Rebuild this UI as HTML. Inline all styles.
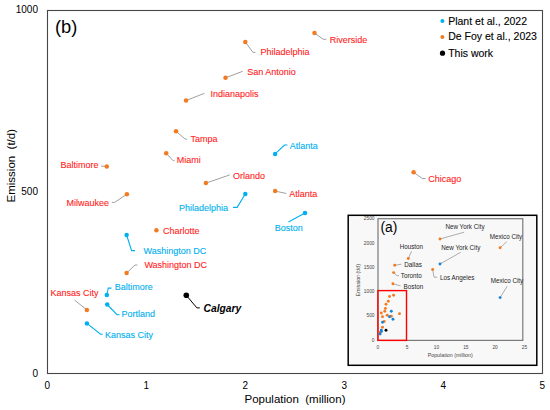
<!DOCTYPE html>
<html><head><meta charset="utf-8">
<style>
html,body{margin:0;padding:0;background:#fff;}
body{width:550px;height:410px;overflow:hidden;}
svg{display:block;font-family:"Liberation Sans",sans-serif;}
</style></head>
<body>
<svg width="550" height="410" viewBox="0 0 550 410">
<rect x="47.5" y="10.5" width="495" height="363" fill="none" stroke="#464646" stroke-width="1.1"/>
<text x="38.0" y="13.1" fill="#000" font-size="10" text-anchor="end"  >1000</text>
<text x="38.0" y="195.0" fill="#000" font-size="10" text-anchor="end"  >500</text>
<text x="38.0" y="377.0" fill="#000" font-size="10" text-anchor="end"  >0</text>
<text x="47.4" y="389.3" fill="#000" font-size="10" text-anchor="middle"  >0</text>
<text x="146.4" y="389.3" fill="#000" font-size="10" text-anchor="middle"  >1</text>
<text x="245.4" y="389.3" fill="#000" font-size="10" text-anchor="middle"  >2</text>
<text x="344.4" y="389.3" fill="#000" font-size="10" text-anchor="middle"  >3</text>
<text x="443.4" y="389.3" fill="#000" font-size="10" text-anchor="middle"  >4</text>
<text x="542.4" y="389.3" fill="#000" font-size="10" text-anchor="middle"  >5</text>
<text x="295" y="402.6" font-size="11.5" text-anchor="middle" fill="#000" xml:space="preserve">Population  (million)</text>
<text transform="translate(14.7,165.7) rotate(-90)" x="0" y="0" font-size="11.5" text-anchor="middle" fill="#000" xml:space="preserve">Emission  (t/d)</text>
<text x="55.0" y="32.7" fill="#000" font-size="18.3" text-anchor="start"  >(b)</text>
<polyline points="314.5,33.1 323.3,39.3 326.2,39.3" fill="none" stroke="#A0A0A0" stroke-width="1"/>
<polyline points="245.3,42.0 252.9,52.3 255.5,52.3" fill="none" stroke="#A0A0A0" stroke-width="1"/>
<polyline points="225.5,77.8 242.7,71.3" fill="none" stroke="#A0A0A0" stroke-width="1"/>
<polyline points="186.0,100.5 204.5,93.3" fill="none" stroke="#A0A0A0" stroke-width="1"/>
<polyline points="176.0,131.3 185.2,139.1 187.1,139.1" fill="none" stroke="#A0A0A0" stroke-width="1"/>
<polyline points="166.2,153.2 173.0,160.6 174.4,160.6" fill="none" stroke="#A0A0A0" stroke-width="1"/>
<polyline points="205.9,183.1 229.8,174.9" fill="none" stroke="#A0A0A0" stroke-width="1"/>
<polyline points="275.1,191.1 286.4,193.5" fill="none" stroke="#A0A0A0" stroke-width="1"/>
<polyline points="413.6,172.3 422.3,178.5 425.5,178.5" fill="none" stroke="#A0A0A0" stroke-width="1"/>
<polyline points="106.8,166.5 101.0,166.0" fill="none" stroke="#A0A0A0" stroke-width="1"/>
<polyline points="126.9,194.2 114.6,202.4 111.9,202.4" fill="none" stroke="#A0A0A0" stroke-width="1"/>
<polyline points="126.6,273.0 135.0,265.0 137.4,265.0" fill="none" stroke="#A0A0A0" stroke-width="1"/>
<polyline points="86.9,309.9 74.5,300.1" fill="none" stroke="#A0A0A0" stroke-width="1"/>
<polyline points="275.1,153.9 284.5,145.0 287.4,145.0" fill="none" stroke="#00B0F0" stroke-width="1.1"/>
<polyline points="245.3,194.0 237.1,207.4 233.0,207.4" fill="none" stroke="#00B0F0" stroke-width="1.1"/>
<polyline points="305.0,213.1 288.5,221.9" fill="none" stroke="#00B0F0" stroke-width="1.1"/>
<polyline points="126.6,235.0 131.6,250.6 135.0,250.6" fill="none" stroke="#00B0F0" stroke-width="1.1"/>
<polyline points="106.8,295.0 108.3,288.1 111.5,288.1" fill="none" stroke="#00B0F0" stroke-width="1.1"/>
<polyline points="107.2,304.5 117.0,314.7 119.6,314.7" fill="none" stroke="#00B0F0" stroke-width="1.1"/>
<polyline points="86.9,323.4 100.6,334.3 102.8,334.3" fill="none" stroke="#00B0F0" stroke-width="1.1"/>
<circle cx="314.5" cy="33.1" r="2.25" fill="#F47A20"/>
<text x="329.8" y="42.6" fill="#FF1F1F" font-size="9" text-anchor="start" stroke="#FF1F1F" stroke-width="0.12" >Riverside</text>
<circle cx="245.3" cy="42.0" r="2.25" fill="#F47A20"/>
<text x="260.5" y="55.1" fill="#FF1F1F" font-size="9" text-anchor="start" stroke="#FF1F1F" stroke-width="0.12" >Philadelphia</text>
<circle cx="225.5" cy="77.8" r="2.25" fill="#F47A20"/>
<text x="247.3" y="74.6" fill="#FF1F1F" font-size="9" text-anchor="start" stroke="#FF1F1F" stroke-width="0.12" >San Antonio</text>
<circle cx="186.0" cy="100.5" r="2.25" fill="#F47A20"/>
<text x="210.5" y="96.7" fill="#FF1F1F" font-size="9" text-anchor="start" stroke="#FF1F1F" stroke-width="0.12" >Indianapolis</text>
<circle cx="176.0" cy="131.3" r="2.25" fill="#F47A20"/>
<text x="190.4" y="142.1" fill="#FF1F1F" font-size="9" text-anchor="start" stroke="#FF1F1F" stroke-width="0.12" >Tampa</text>
<circle cx="166.2" cy="153.2" r="2.25" fill="#F47A20"/>
<text x="176.8" y="163.1" fill="#FF1F1F" font-size="9" text-anchor="start" stroke="#FF1F1F" stroke-width="0.12" >Miami</text>
<circle cx="205.9" cy="183.1" r="2.25" fill="#F47A20"/>
<text x="233.1" y="178.8" fill="#FF1F1F" font-size="9" text-anchor="start" stroke="#FF1F1F" stroke-width="0.12" >Orlando</text>
<circle cx="275.1" cy="191.1" r="2.25" fill="#F47A20"/>
<text x="289.3" y="196.7" fill="#FF1F1F" font-size="9" text-anchor="start" stroke="#FF1F1F" stroke-width="0.12" >Atlanta</text>
<circle cx="413.6" cy="172.3" r="2.25" fill="#F47A20"/>
<text x="428.3" y="181.7" fill="#FF1F1F" font-size="9" text-anchor="start" stroke="#FF1F1F" stroke-width="0.12" >Chicago</text>
<circle cx="106.8" cy="166.5" r="2.25" fill="#F47A20"/>
<text x="98.5" y="168.1" fill="#FF1F1F" font-size="9" text-anchor="end" stroke="#FF1F1F" stroke-width="0.12" >Baltimore</text>
<circle cx="126.9" cy="194.2" r="2.25" fill="#F47A20"/>
<text x="109.0" y="206.1" fill="#FF1F1F" font-size="9" text-anchor="end" stroke="#FF1F1F" stroke-width="0.12" >Milwaukee</text>
<circle cx="156.4" cy="230.2" r="2.25" fill="#F47A20"/>
<text x="163.0" y="233.5" fill="#FF1F1F" font-size="9" text-anchor="start" stroke="#FF1F1F" stroke-width="0.12" >Charlotte</text>
<circle cx="126.6" cy="273.0" r="2.25" fill="#F47A20"/>
<text x="144.4" y="268.1" fill="#FF1F1F" font-size="9" text-anchor="start" stroke="#FF1F1F" stroke-width="0.12" >Washington DC</text>
<circle cx="86.9" cy="309.9" r="2.25" fill="#F47A20"/>
<text x="50.5" y="296.4" fill="#FF1F1F" font-size="9" text-anchor="start" stroke="#FF1F1F" stroke-width="0.12" >Kansas City</text>
<circle cx="275.1" cy="153.9" r="2.25" fill="#00B0F0"/>
<text x="289.7" y="148.9" fill="#00B0F0" font-size="9" text-anchor="start" stroke="#00B0F0" stroke-width="0.12" >Atlanta</text>
<circle cx="245.3" cy="194.0" r="2.25" fill="#00B0F0"/>
<text x="228.0" y="210.7" fill="#00B0F0" font-size="9" text-anchor="end" stroke="#00B0F0" stroke-width="0.12" >Philadelphia</text>
<circle cx="305.0" cy="213.1" r="2.25" fill="#00B0F0"/>
<text x="274.8" y="231.1" fill="#00B0F0" font-size="9" text-anchor="start" stroke="#00B0F0" stroke-width="0.12" >Boston</text>
<circle cx="126.6" cy="235.0" r="2.25" fill="#00B0F0"/>
<text x="143.6" y="253.8" fill="#00B0F0" font-size="9" text-anchor="start" stroke="#00B0F0" stroke-width="0.12" >Washington DC</text>
<circle cx="106.8" cy="295.0" r="2.25" fill="#00B0F0"/>
<text x="114.8" y="290.1" fill="#00B0F0" font-size="9" text-anchor="start" stroke="#00B0F0" stroke-width="0.12" >Baltimore</text>
<circle cx="107.2" cy="304.5" r="2.25" fill="#00B0F0"/>
<text x="121.4" y="317.4" fill="#00B0F0" font-size="9" text-anchor="start" stroke="#00B0F0" stroke-width="0.12" >Portland</text>
<circle cx="86.9" cy="323.4" r="2.25" fill="#00B0F0"/>
<text x="105.0" y="338.1" fill="#00B0F0" font-size="9" text-anchor="start" stroke="#00B0F0" stroke-width="0.12" >Kansas City</text>
<polyline points="186.3,295.3 196.9,307.9 199.8,307.9" fill="none" stroke="#000" stroke-width="1"/>
<circle cx="186.3" cy="295.3" r="2.8" fill="#000"/>
<text x="203.5" y="312.1" fill="#000" font-size="10.3" text-anchor="start"  font-weight="bold" font-style="italic">Calgary</text>
<circle cx="442.4" cy="21.0" r="2.0" fill="#00B0F0"/>
<circle cx="442.4" cy="37.1" r="2.0" fill="#F47A20"/>
<circle cx="442.5" cy="53.2" r="2.6" fill="#000"/>
<text x="448.2" y="24.7" fill="#000" font-size="10.5" text-anchor="start" stroke="#000" stroke-width="0.12" style="stroke-width:0.12">Plant et al., 2022</text>
<text x="448.2" y="40.4" fill="#000" font-size="10.5" text-anchor="start" stroke="#000" stroke-width="0.12" style="stroke-width:0.12">De Foy et al., 2023</text>
<text x="448.2" y="56.7" fill="#000" font-size="10.5" text-anchor="start" stroke="#000" stroke-width="0.12" style="stroke-width:0.12">This work</text>
<rect x="348.2" y="215.3" width="188.6" height="150" fill="#F8F8F8" stroke="#000" stroke-width="1.5"/>
<rect x="378.0" y="218.7" width="144.8" height="121.7" fill="none" stroke="#7A7A7A" stroke-width="1.2"/>
<text x="374.5" y="341.7" fill="#444" font-size="4.8" text-anchor="end"  >0</text>
<text x="374.5" y="317.4" fill="#444" font-size="4.8" text-anchor="end"  >500</text>
<text x="374.5" y="293.2" fill="#444" font-size="4.8" text-anchor="end"  >1000</text>
<text x="374.5" y="268.9" fill="#444" font-size="4.8" text-anchor="end"  >1500</text>
<text x="374.5" y="244.7" fill="#444" font-size="4.8" text-anchor="end"  >2000</text>
<text x="374.5" y="220.4" fill="#444" font-size="4.8" text-anchor="end"  >2500</text>
<text x="377.9" y="348.7" fill="#444" font-size="4.8" text-anchor="middle"  >0</text>
<text x="407.2" y="348.7" fill="#444" font-size="4.8" text-anchor="middle"  >5</text>
<text x="436.5" y="348.7" fill="#444" font-size="4.8" text-anchor="middle"  >10</text>
<text x="465.8" y="348.7" fill="#444" font-size="4.8" text-anchor="middle"  >15</text>
<text x="495.1" y="348.7" fill="#444" font-size="4.8" text-anchor="middle"  >20</text>
<text x="524.4" y="348.7" fill="#444" font-size="4.8" text-anchor="middle"  >25</text>
<text x="450.2" y="357.1" fill="#444" font-size="5.3" text-anchor="middle"  >Population (million)</text>
<text transform="translate(360.32,280.2) rotate(-90)" font-size="5.3" text-anchor="middle" fill="#444">Emission (t/d)</text>
<text x="380.4" y="232.3" fill="#000" font-size="13.8" text-anchor="start"  >(a)</text>
<rect x="377.9" y="290.6" width="28.6" height="49.8" fill="none" stroke="#FF0000" stroke-width="1.4"/>
<circle cx="393.6" cy="295.2" r="1.45" fill="#F47A20"/>
<circle cx="389.5" cy="296.5" r="1.45" fill="#F47A20"/>
<circle cx="388.3" cy="301.2" r="1.45" fill="#F47A20"/>
<circle cx="386.0" cy="304.2" r="1.45" fill="#F47A20"/>
<circle cx="385.4" cy="308.4" r="1.45" fill="#F47A20"/>
<circle cx="384.8" cy="311.3" r="1.45" fill="#F47A20"/>
<circle cx="387.2" cy="315.2" r="1.45" fill="#F47A20"/>
<circle cx="391.3" cy="316.3" r="1.45" fill="#F47A20"/>
<circle cx="399.5" cy="313.8" r="1.45" fill="#F47A20"/>
<circle cx="381.3" cy="313.0" r="1.45" fill="#F47A20"/>
<circle cx="382.5" cy="316.7" r="1.45" fill="#F47A20"/>
<circle cx="384.2" cy="321.5" r="1.45" fill="#F47A20"/>
<circle cx="382.5" cy="327.2" r="1.45" fill="#F47A20"/>
<circle cx="380.1" cy="332.1" r="1.45" fill="#F47A20"/>
<circle cx="391.3" cy="311.3" r="1.45" fill="#1683D6"/>
<circle cx="389.5" cy="316.7" r="1.45" fill="#1683D6"/>
<circle cx="393.0" cy="319.3" r="1.45" fill="#1683D6"/>
<circle cx="382.5" cy="322.2" r="1.45" fill="#1683D6"/>
<circle cx="381.3" cy="330.1" r="1.45" fill="#1683D6"/>
<circle cx="381.4" cy="331.4" r="1.45" fill="#1683D6"/>
<circle cx="380.1" cy="334.0" r="1.45" fill="#1683D6"/>
<circle cx="386.0" cy="330.2" r="1.45" fill="#000"/>
<polyline points="408.3,258.5 411.6,251.2" fill="none" stroke="#8C8C8C" stroke-width="0.7"/>
<polyline points="394.7,265.3 401.5,264.2" fill="none" stroke="#8C8C8C" stroke-width="0.7"/>
<polyline points="393.6,272.6 397.0,275.7 399.0,275.7" fill="none" stroke="#8C8C8C" stroke-width="0.7"/>
<polyline points="392.9,283.7 400.6,285.9" fill="none" stroke="#8C8C8C" stroke-width="0.7"/>
<polyline points="440.0,239.0 464.2,232.2" fill="none" stroke="#8C8C8C" stroke-width="0.7"/>
<polyline points="440.0,264.0 460.7,252.3" fill="none" stroke="#8C8C8C" stroke-width="0.7"/>
<polyline points="432.6,269.5 434.1,277.2 437.3,277.2" fill="none" stroke="#8C8C8C" stroke-width="0.7"/>
<polyline points="500.1,247.8 506.8,241.6" fill="none" stroke="#8C8C8C" stroke-width="0.7"/>
<polyline points="500.1,297.6 507.2,286.2" fill="none" stroke="#8C8C8C" stroke-width="0.7"/>
<circle cx="408.3" cy="258.5" r="1.45" fill="#F47A20"/>
<text x="411.4" y="248.6" fill="#262626" font-size="6.3" text-anchor="middle"  >Houston</text>
<circle cx="394.7" cy="265.3" r="1.45" fill="#F47A20"/>
<text x="404.3" y="266.9" fill="#262626" font-size="6.3" text-anchor="start"  >Dallas</text>
<circle cx="393.6" cy="272.6" r="1.45" fill="#F47A20"/>
<text x="400.8" y="278.4" fill="#262626" font-size="6.3" text-anchor="start"  >Toronto</text>
<circle cx="392.9" cy="283.7" r="1.45" fill="#F47A20"/>
<text x="403.6" y="288.5" fill="#262626" font-size="6.3" text-anchor="start"  >Boston</text>
<circle cx="440.0" cy="239.0" r="1.45" fill="#F47A20"/>
<text x="465.0" y="229.0" fill="#262626" font-size="6.3" text-anchor="middle"  >New York City</text>
<circle cx="440.0" cy="264.0" r="1.45" fill="#1683D6"/>
<text x="460.8" y="249.8" fill="#262626" font-size="6.3" text-anchor="middle"  >New York City</text>
<circle cx="432.6" cy="269.5" r="1.45" fill="#F47A20"/>
<text x="440.0" y="279.9" fill="#262626" font-size="6.3" text-anchor="start"  >Los Angeles</text>
<circle cx="500.1" cy="247.8" r="1.45" fill="#F47A20"/>
<text x="506.0" y="238.8" fill="#262626" font-size="6.3" text-anchor="middle"  >Mexico City</text>
<circle cx="500.1" cy="297.6" r="1.45" fill="#1683D6"/>
<text x="507.0" y="282.6" fill="#262626" font-size="6.3" text-anchor="middle"  >Mexico City</text>
</svg>
</body></html>
